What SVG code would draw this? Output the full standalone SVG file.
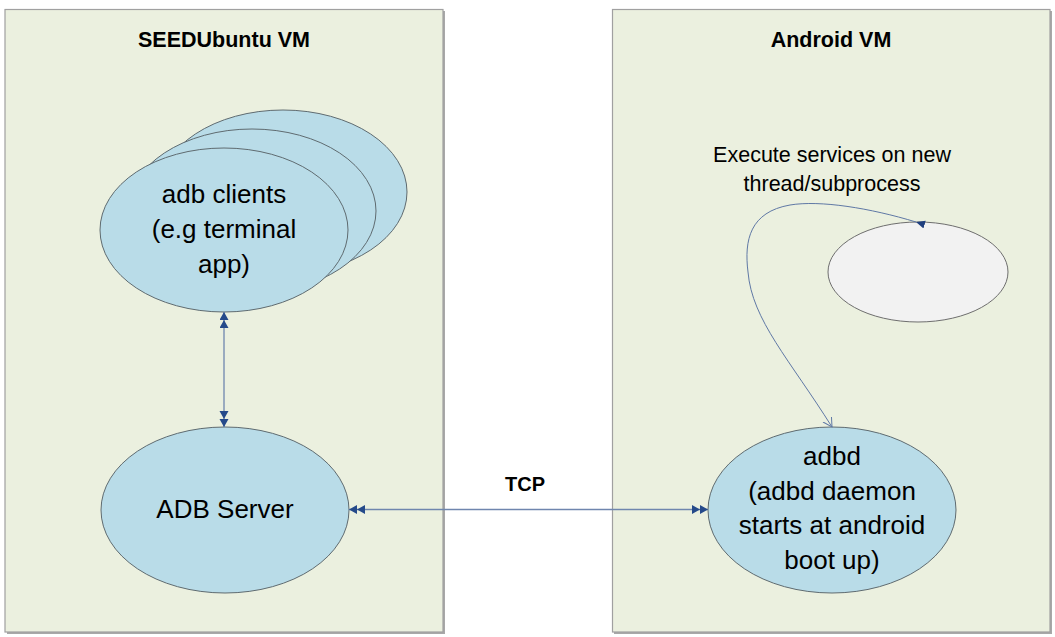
<svg xmlns="http://www.w3.org/2000/svg" width="1055" height="637" viewBox="0 0 1055 637">
<defs>
<style>
.panel{fill:#EBF0DF;stroke:#A0A0A0;stroke-width:1.2}
.shadow{fill:#A8A8A8}
.title{font-family:"Liberation Sans",Arial,sans-serif;font-weight:bold;font-size:21.5px;fill:#000;text-anchor:middle}
.tcp{font-family:"Liberation Sans",Arial,sans-serif;font-weight:bold;font-size:20px;fill:#000;text-anchor:middle}
.node{fill:#B9DCE8;stroke:#5F6B70;stroke-width:1}
.label{font-family:"Liberation Sans",Arial,sans-serif;font-size:26px;fill:#000;text-anchor:middle}
.note{font-family:"Liberation Sans",Arial,sans-serif;font-size:21.5px;fill:#000;text-anchor:middle}
.conn{fill:none;stroke:#6F86AE;stroke-width:1.3}
</style>
<marker id="dbl" markerUnits="userSpaceOnUse" markerWidth="18" markerHeight="10" refX="16" refY="4.5" orient="auto-start-reverse" viewBox="0 0 18 10">
<path d="M0,0 L8,4.5 L0,9 Z M8,0 L16,4.5 L8,9 Z" fill="#254A8A"/>
</marker>
<marker id="tri" markerUnits="userSpaceOnUse" markerWidth="12" markerHeight="10" refX="9" refY="4" orient="auto" viewBox="0 0 12 10">
<path d="M0,0 L9,4 L0,8 Z" fill="#1F3F7F"/>
</marker>
<marker id="open" markerUnits="userSpaceOnUse" markerWidth="12" markerHeight="12" refX="9" refY="5" orient="auto" viewBox="0 0 12 12">
<path d="M0,0 L9,5 L0,10" fill="none" stroke="#5F78A5" stroke-width="1"/>
</marker>
</defs>
<rect width="1055" height="637" fill="#FFFFFF"/>
<g id="panel-seedubuntu">
<rect class="shadow" x="7" y="11" width="438" height="623"/>
<rect class="panel" x="5" y="9.5" width="438" height="622.5"/>
<text class="title" x="224" y="47">SEEDUbuntu VM</text>
</g>
<g id="panel-android">
<rect class="shadow" x="614" y="11" width="438" height="623"/>
<rect class="panel" x="612.5" y="9.5" width="437.5" height="622.5"/>
<text class="title" x="831" y="47">Android VM</text>
</g>
<g id="node-adb-clients">
<ellipse class="node" cx="283" cy="192" rx="124" ry="82"/>
<ellipse class="node" cx="252" cy="211" rx="124" ry="82"/>
<ellipse class="node" cx="224" cy="230" rx="124" ry="82"/>
<text class="label" x="224" y="203">adb clients</text>
<text class="label" x="224" y="238">(e.g terminal</text>
<text class="label" x="224" y="273">app)</text>
</g>
<g id="node-adb-server">
<ellipse class="node" cx="225" cy="510" rx="124" ry="83"/>
<text class="label" x="225" y="518">ADB Server</text>
</g>
<g id="node-adbd">
<ellipse class="node" cx="832" cy="510" rx="124" ry="83"/>
<text class="label" x="832" y="465">adbd</text>
<text class="label" x="832" y="500">(adbd daemon</text>
<text class="label" x="832" y="534">starts at android</text>
<text class="label" x="832" y="569">boot up)</text>
</g>
<g id="node-subprocess">
<ellipse cx="918" cy="272" rx="90" ry="50" fill="#F2F2F2" stroke="#6E6E6E" stroke-width="1"/>
</g>
<g id="connectors">
<line class="conn" x1="224" y1="312" x2="224" y2="427" marker-start="url(#dbl)" marker-end="url(#dbl)"/>
<line class="conn" x1="349" y1="509.5" x2="708" y2="509.5" marker-start="url(#dbl)" marker-end="url(#dbl)"/>
<text class="tcp" x="525" y="491">TCP</text>
<path class="conn" d="M916,222 C870,208 820,200 790,205 C750,212 744,240 748,272 C752,320 790,360 832,427" marker-start="url(#tri)" marker-end="url(#open)" style="stroke:#5F78A5;stroke-width:1"/>
<text class="note" x="832" y="162">Execute services on new</text>
<text class="note" x="832" y="191">thread/subprocess</text>
</g>
</svg>
